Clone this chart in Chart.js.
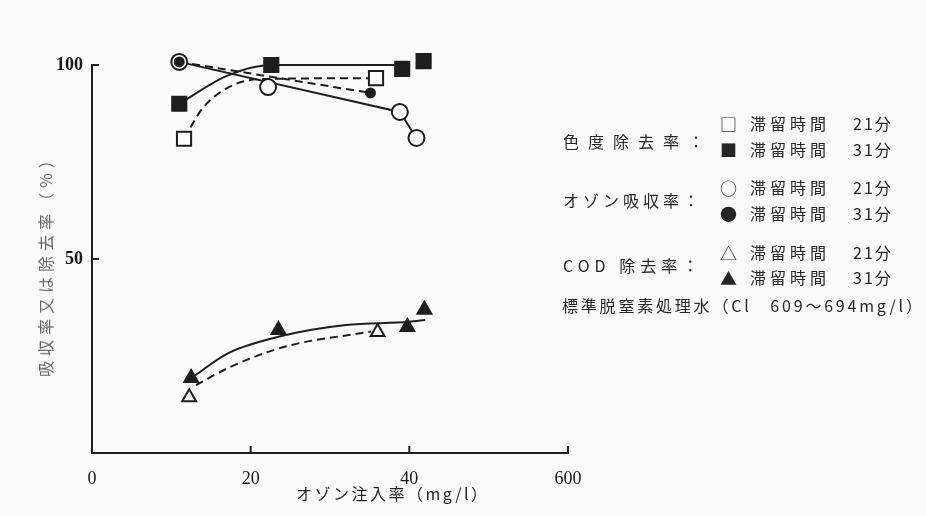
<!DOCTYPE html>
<html>
<head>
<meta charset="utf-8">
<script src="https://cdn.jsdelivr.net/npm/chart.js@4"></script>
<style>
  body { margin:0; background:#fbfbfb; }
  #wrap { position:relative; width:926px; height:516px; overflow:hidden; }
  .t { position:absolute; font-family:"Noto Sans CJK JP","Noto Sans",sans-serif; color:#262626; font-size:16px; white-space:nowrap; line-height:1; }
</style>
</head>
<body>
<div id="wrap">
<canvas id="c" width="926" height="516"></canvas>
</div>
<script>
// ---- tick labels ----
const xTickValues = [0, 20, 40, 60];
const xTickLabels = ['0', '20', '40', '600'];
const yTickValues = [0, 50, 100];
const yTickLabels = ['', '50', '100'];

// ---- measured points ----
// 色度除去率
const colour21X = [11.6, 35.8];
const colour21Y = [81, 96.6];
const colour31X = [11, 22.6, 39.1, 41.8];
const colour31Y = [90, 100, 99, 101];
// オゾン吸収率
const ozone21X = [11, 22.2, 38.8, 40.9];
const ozone21Y = [100.8, 94.3, 87.9, 81.2];
const ozone31X = [11, 35.1];
const ozone31Y = [100.8, 92.8];
// COD 除去率
const cod21X = [12.25, 36];
const cod21Y = [14.4, 31.2];
const cod31X = [12.5, 23.5, 39.75, 41.9];
const cod31Y = [19.3, 31.7, 32.5, 36.9];

// ---- drawn curves ----
const colour31CurveX = [11, 17, 22.6, 39];
const colour31CurveY = [90, 97.2, 100, 100];
const colour21CurveX = [11.6, 14, 18, 22, 35.8];
const colour21CurveY = [81, 89, 95, 96.4, 96.6];
const ozone21CurveX = [11, 38.8, 40.9];
const ozone21CurveY = [100.8, 87.9, 81.2];
const ozone31CurveX = [11, 35.1];
const ozone31CurveY = [100.8, 92.8];
const cod31CurveX = [12.5, 17.25, 24, 32, 40, 42];
const cod31CurveY = [19.3, 25.8, 30.2, 33, 33.8, 34.3];
const cod21CurveX = [13.1, 17.25, 24.3, 35.2];
const cod21CurveY = [17.5, 22, 27.4, 31.3];

const zip = (xs, ys) => xs.map((x, i) => ({ x: x, y: ys[i] }));
const INK = '#1e1e1e';

function pts(xs, ys, style, radius, filled, order) {
  return {
    data: zip(xs, ys), showLine: false, pointStyle: style, pointRadius: radius,
    pointBackgroundColor: filled ? INK : '#ffffff', pointBorderColor: INK,
    pointBorderWidth: 2, clip: false, order: order
  };
}
function curve(xs, ys, dashed, smooth) {
  return {
    data: zip(xs, ys), showLine: true, pointRadius: 0, borderColor: INK,
    borderWidth: 2, borderDash: dashed ? [8, 5] : [], tension: 0,
    cubicInterpolationMode: smooth ? 'monotone' : 'default', clip: false, order: 3
  };
}

const innerTicks = {
  id: 'innerTicks',
  afterDraw(chart) {
    const { ctx, scales: { x, y } } = chart;
    ctx.save();
    ctx.strokeStyle = INK; ctx.lineWidth = 2;
    ctx.beginPath();
    xTickValues.slice(1).forEach(v => {
      const px = x.getPixelForValue(v);
      ctx.moveTo(px, y.bottom); ctx.lineTo(px, y.bottom - 7);
    });
    yTickValues.slice(1).forEach(v => {
      const py = y.getPixelForValue(v);
      ctx.moveTo(x.left - 1, py); ctx.lineTo(x.left + 7, py);
    });
    ctx.stroke();
    ctx.restore();
  }
};

new Chart(document.getElementById('c'), {
  type: 'scatter',
  data: {
    datasets: [
      curve(colour31CurveX, colour31CurveY, false, true),
      curve(colour21CurveX, colour21CurveY, true, true),
      curve(ozone21CurveX, ozone21CurveY, false, false),
      curve(ozone31CurveX, ozone31CurveY, true, false),
      curve(cod31CurveX, cod31CurveY, false, true),
      curve(cod21CurveX, cod21CurveY, true, true),
      pts(colour21X, colour21Y, 'rect', 10, false, 1),
      pts(colour31X, colour31Y, 'rect', 10, true, 1),
      pts(ozone21X, ozone21Y, 'circle', 8, false, 2),
      pts(ozone31X, ozone31Y, 'circle', 4.5, true, 0),
      pts(cod21X, cod21Y, 'triangle', 8, false, 1),
      pts(cod31X, cod31Y, 'triangle', 8, true, 1)
    ]
  },
  options: {
    responsive: false, animation: false, devicePixelRatio: 1,
    layout: { padding: { left: 0, right: 358, top: 65, bottom: 0 } },
    plugins: { legend: { display: false }, tooltip: { enabled: false } },
    scales: {
      x: {
        type: 'linear', min: 0, max: 60,
        afterBuildTicks: s => { s.ticks = xTickValues.map(v => ({ value: v })); },
        afterFit: s => { s.height = 63; },
        grid: { display: false, drawTicks: false },
        border: { display: true, color: INK, width: 2 },
        ticks: {
          padding: 15, color: '#161616', font: { family: 'Liberation Serif', size: 18 },
          callback: v => xTickLabels[xTickValues.indexOf(v)]
        }
      },
      y: {
        type: 'linear', min: 0, max: 100,
        afterBuildTicks: s => { s.ticks = yTickValues.map(v => ({ value: v })); },
        afterFit: s => { s.width = 92; },
        grid: { display: false, drawTicks: false },
        border: { display: true, color: INK, width: 2 },
        ticks: {
          padding: 9, color: '#161616', font: { family: 'Liberation Serif', size: 18, weight: 'bold' },
          callback: v => yTickLabels[yTickValues.indexOf(v)]
        }
      }
    }
  },
  plugins: [innerTicks]
});

// ---- text overlays ----
const wrap = document.getElementById('wrap');
function addText(txt, left, cy, extra) {
  const d = document.createElement('div');
  d.className = 't';
  d.textContent = txt;
  d.style.left = left + 'px';
  d.style.top = (cy - 8) + 'px';
  if (extra) Object.assign(d.style, extra);
  wrap.appendChild(d);
  return d;
}
const groupLabels = ['色度除去率：', 'オゾン吸収率：', 'COD 除去率：'];
const groupY = [141, 200, 265];
const groupSpacing = ['9px', '4px', '5px'];
const rowSymbols = ['□', '■', '○', '●', '△', '▲'];
const rowY = [123, 149, 187, 213, 252, 277];
const rowTime = ['21分', '31分'];
groupLabels.forEach((g, i) => addText(g, 563, groupY[i], { letterSpacing: groupSpacing[i] }));
rowSymbols.forEach((s, i) => {
  addText(s, 720, rowY[i], { fontSize: '17px' });
  addText('滞留時間', 750, rowY[i], { letterSpacing: '4px' });
  addText(rowTime[i % 2], 853, rowY[i], { letterSpacing: '2px' });
});
addText('標準脱窒素処理水（Cl　609～694mg/l）', 562, 305, { letterSpacing: '2.8px' });

// axis titles
addText('オゾン注入率（mg/l）', 296, 493, { letterSpacing: '2.5px' });
const yt = addText('吸収率又は除去率（%）', 0, 0, { letterSpacing: '5px', color: '#666' });
yt.style.left = '45px'; yt.style.top = '262px';
yt.style.transformOrigin = '0 0';
yt.style.transform = 'rotate(-90deg) translate(-50%, -50%)';
</script>
</body>
</html>
